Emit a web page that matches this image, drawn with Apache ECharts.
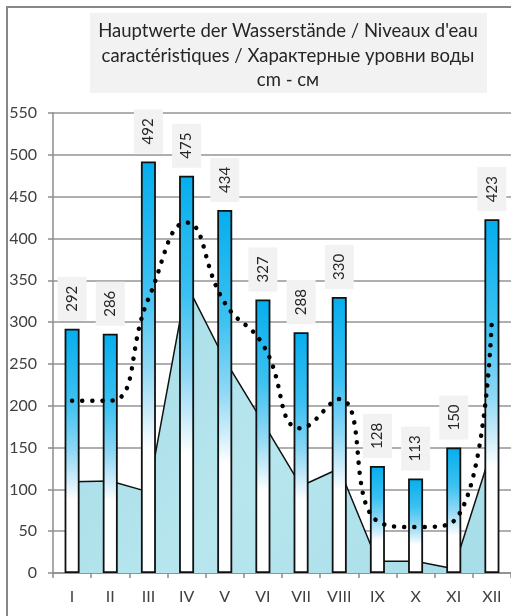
<!DOCTYPE html>
<html>
<head>
<meta charset="utf-8">
<script src="https://cdn.jsdelivr.net/npm/echarts@6/dist/echarts.min.js"></script>
<style>
  html, body { margin: 0; padding: 0; background: #fff; }
  #chart { width: 511px; height: 616px; }
</style>
</head>
<body>
<div id="chart"></div>
<script>
var months = ['I', 'II', 'III', 'IV', 'V', 'VI', 'VII', 'VIII', 'IX', 'X', 'XI', 'XII'];
var highWater = [292, 286, 492, 475, 434, 327, 288, 330, 128, 113, 150, 423];
var meanWater = [206, 206, 328, 419, 323, 273, 173, 208, 62, 55, 62, 305];
var lowWater = [109, 110, 97, 345, 255, 180, 104, 125, 14, 14, 5, 148];
var titleLines = [
    'Hauptwerte der Wasserstände / Niveaux d\'eau',
    'caractéristiques / Характерные уровни воды',
    'cm - см'
];

var chartDom = document.getElementById('chart');
var myChart = echarts.init(chartDom);
var fontName = 'Lato';

var option = {
    animation: false,
    backgroundColor: '#fff',
    graphic: [
        {
            type: 'rect',
            z: -10,
            shape: { x: 7, y: 7, width: 640, height: 720 },
            style: { fill: 'none', stroke: '#878787', lineWidth: 2 }
        },
        {
            type: 'rect',
            z: 1,
            shape: { x: 90, y: 13, width: 397, height: 80 },
            style: { fill: '#F2F2F2' }
        },
        {
            type: 'text',
            z: 2,
            x: 288,
            y: 56,
            style: {
                text: titleLines.join('\n'),
                align: 'center',
                verticalAlign: 'middle',
                fontFamily: fontName,
                fontSize: 18.5,
                lineHeight: 24.5,
                fill: '#262626'
            }
        }
    ],
    grid: {
        left: 53,
        top: 113,
        width: 460,
        height: 460,
        containLabel: false
    },
    xAxis: {
        type: 'category',
        data: months,
        boundaryGap: true,
        axisLine: { show: true, lineStyle: { color: '#8c8c8c', width: 1.5 } },
        axisTick: { show: true, length: 5, lineStyle: { color: '#8c8c8c', width: 1.5 } },
        axisLabel: {
            margin: 16,
            color: '#404040',
            fontSize: 16,
            fontFamily: fontName
        },
        splitLine: { show: false }
    },
    yAxis: {
        type: 'value',
        min: 0,
        max: 550,
        interval: 50,
        axisLine: { show: true, lineStyle: { color: '#8c8c8c', width: 1.5 } },
        axisTick: { show: true, length: 5, lineStyle: { color: '#8c8c8c', width: 1.5 } },
        axisLabel: {
            margin: 16,
            color: '#404040',
            fontSize: 16,
            fontFamily: fontName
        },
        splitLine: { show: true, lineStyle: { color: '#959595', width: 1.5 } }
    },
    series: [
        {
            name: 'low',
            type: 'line',
            data: lowWater,
            symbol: 'none',
            smooth: false,
            lineStyle: { color: '#111', width: 1.5 },
            areaStyle: {
                opacity: 1,
                color: new echarts.graphic.LinearGradient(0, 0, 1, 1, [
                    { offset: 0, color: '#A3DBE6' },
                    { offset: 0.5, color: '#B8E6EE' },
                    { offset: 1, color: '#A6DDE8' }
                ])
            },
            z: 1
        },
        {
            name: 'high',
            type: 'bar',
            data: highWater,
            barWidth: 15,
            itemStyle: {
                borderColor: '#111',
                borderWidth: 1.8,
                color: new echarts.graphic.LinearGradient(0, 0, 0, 1, [
                    { offset: 0, color: '#05AEEE' },
                    { offset: 0.3, color: '#3CC1F1' },
                    { offset: 0.5, color: '#8FD8F5' },
                    { offset: 0.62, color: '#D0EEFA' },
                    { offset: 0.7, color: '#FFFFFF' },
                    { offset: 1, color: '#FFFFFF' }
                ])
            },
            label: {
                show: true,
                position: 'top',
                distance: 8,
                rotate: 90,
                align: 'left',
                verticalAlign: 'middle',
                color: '#262626',
                fontSize: 15,
                fontFamily: fontName,
                lineHeight: 15,
                backgroundColor: '#F2F2F2',
                padding: [7, 9, 7, 9]
            },
            z: 3
        },
        {
            name: 'mean',
            type: 'line',
            data: meanWater,
            symbol: 'none',
            smooth: 0.5,
            lineStyle: {
                color: '#000',
                width: 4.5,
                type: [0.1, 10],
                cap: 'round'
            },
            z: 5
        }
    ]
};

option && myChart.setOption(option);
</script>
</body>
</html>
